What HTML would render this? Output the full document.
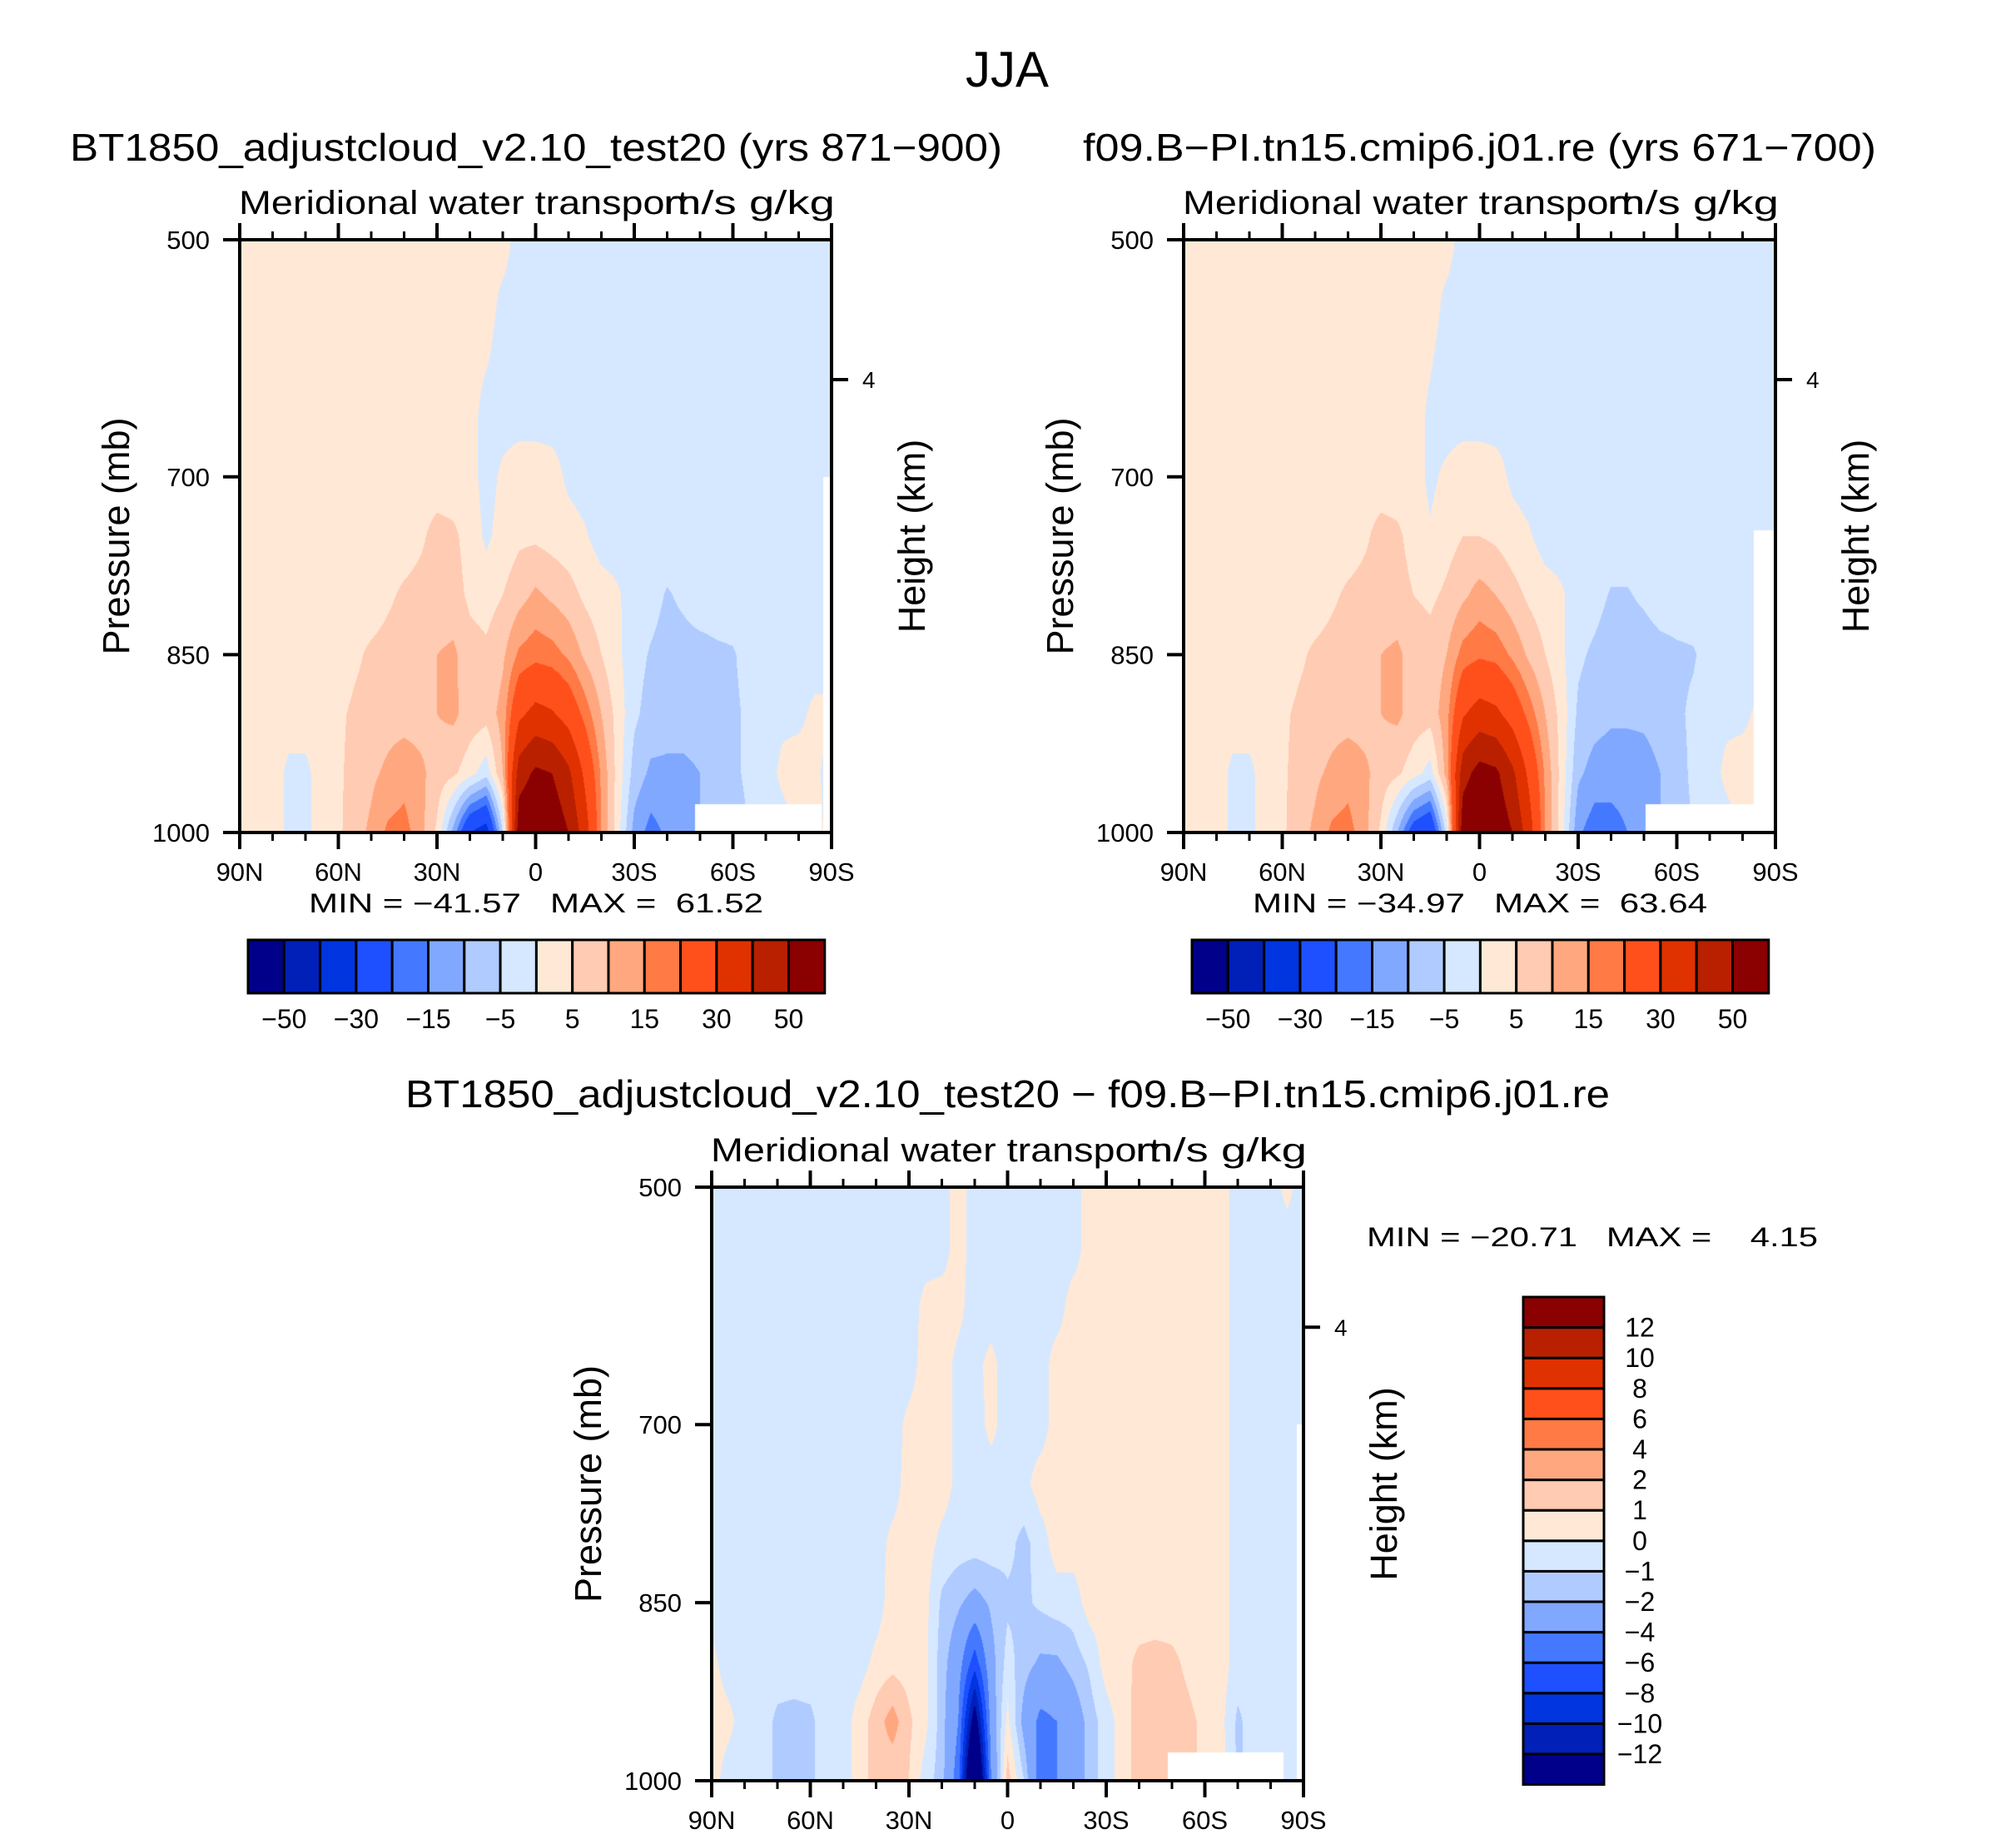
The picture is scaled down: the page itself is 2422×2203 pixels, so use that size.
<!DOCTYPE html>
<html>
<head>
<meta charset="utf-8">
<style>
html,body{margin:0;padding:0;background:#fff;}
#wrap{position:relative;width:2422px;height:2203px;overflow:hidden;background:#fff;}
canvas{position:absolute;}
svg{position:absolute;left:0;top:0;}
text{font-family:"Liberation Sans",Arial,sans-serif;fill:#000;white-space:pre;}
</style>
</head>
<body>
<div id="wrap">
<canvas id="c1" width="711" height="712" style="left:288px;top:288px"></canvas>
<canvas id="c2" width="711" height="712" style="left:1422px;top:288px"></canvas>
<canvas id="c3" width="711" height="713" style="left:855px;top:1426px"></canvas>
<svg id="svg" width="2422" height="2203" xmlns="http://www.w3.org/2000/svg">
<text x="1210" y="104" font-size="60" text-anchor="middle">JJA</text>
<text x="84" y="193" font-size="46" textLength="1120" lengthAdjust="spacingAndGlyphs">BT1850_adjustcloud_v2.10_test20 (yrs 871−900)</text>
<text x="1301" y="193" font-size="46" textLength="953" lengthAdjust="spacingAndGlyphs">f09.B−PI.tn15.cmip6.j01.re (yrs 671−700)</text>
<text x="487" y="1330" font-size="46" textLength="1447" lengthAdjust="spacingAndGlyphs">BT1850_adjustcloud_v2.10_test20 − f09.B−PI.tn15.cmip6.j01.re</text>
<text x="371" y="1096" font-size="32" textLength="546" lengthAdjust="spacingAndGlyphs">MIN = −41.57   MAX =  61.52</text>
<text x="1505" y="1096" font-size="32" textLength="546" lengthAdjust="spacingAndGlyphs">MIN = −34.97   MAX =  63.64</text>
<text x="1642" y="1497" font-size="32" textLength="542" lengthAdjust="spacingAndGlyphs">MIN = −20.71   MAX =    4.15</text>
<g id="axes"></g>
</svg>
</div>
<script>
const levels=[500,550,600,650,700,750,800,850,900,950,1000];
const latTicks=[90,60,30,0,-30,-60,-90];
const latTickLabels=["90N","60N","30N","0","30S","60S","90S"];
const pTicks=[500,700,850,1000];
const pTickLabels=["500","700","850","1000"];
const heightTickP=[618];
const heightTickLabels=["4"];
const colors=["#00008B","#0020B8","#0035E0","#1E50FF","#4479FF","#80A8FF","#B0CBFF","#D5E8FF","#FFE9D6","#FFCBB2","#FFA880","#FF7A45","#FF501C","#E03200","#B82000","#8B0000"];
const bounds12=[-50,-40,-30,-20,-15,-10,-5,0,5,10,15,20,30,40,50];
const boundLabels12=["−50","","−30","","−15","","−5","","5","","15","","30","","50"];
const bounds3=[-12,-10,-8,-6,-4,-2,-1,0,1,2,4,6,8,10,12];
const boundLabels3=["−12","−10","−8","−6","−4","−2","−1","0","1","2","4","6","8","10","12"];

const field1=[
[2,2,2,2,2,2,2,2,2,2,2,2,2,2,2,2,2,-2,-2,-2,-2,-2,-2,-2,-2,-2,-2,-2,-2,-2,-2,-2,-2,-2,-2,-2,-2],
[2,2,2,2,2,2,2,2,2,2,2,2,2,2,2,2,-1,-2,-2,-2,-2,-2,-2,-2,-2,-2,-2,-2,-2,-2,-2,-2,-2,-2,-2,-2,-2],
[2,2,2,2,2,2,2,2,2,2,2,2,2,2,2,0.5,-2,-2,-2,-2,-2,-2,-2,-2,-2,-2,-2,-2,-2,-2,-2,-2,-2,-2,-2,-2,-2],
[2,2,2,2,2,2,2,2,2,2,2,2,2,2,2,-2,-2,-2,-2,-2,-2,-2,-2,-2,-2,-2,-2,-2,-2,-2,-2,-2,-2,-2,-2,-2,-2],
[2,2,2,2,2,2,2,2,2,2,2,2,2,2,2,-2,1,3,3,2,-1,-2,-2,-2,-2,-2,-2,-2,-2,-2,-2,-2,-2,-2,-2,-2,-2],
[2,2,2,2,2,2,2,2,2,2,2,4,7,6,3,-1,2,4,4,3,2,0.5,-2,-2,-2,-2,-2,-2,-2,-2,-2,-2,-2,-2,-2,-2,-2],
[2,2,2,2,2,2,2,2,2,4,6,7,7,7,4,3,5,8,11,9,7,4,2,0.5,-2,-3,-5.5,-4,-2,-2,-2,-2,-2,-2,-2,-2,-2],
[2,2,2,2,2,2,2,4,6,7,8,8,10,11,7,6,9,16,18,17,14,9,5,1,-3,-5.5,-7,-7,-7,-6,-5.5,-3,-2,-2,-2,-2,-2],
[2,2,2,2,2,2,4,6,7,8,8,8,10,11,8,7,12,28,33,31,26,18,10,3,-4,-7,-8,-8,-8,-7,-6,-4,-2,-1,-1,1,1],
[2,2,2,-1,-1,2,4,7,9,11,13,11,8,6,2,-3,10,45,52,50,42,28,14,3,-7,-11,-11,-11,-10,-9,-6,-4,-2,1,2,1,-2],
[2,2,2,-1,-1,2,4,8,11,16,17,12,4,-12,-30,-35,-5,58,60,58,50,35,15,2,-12,-17,-14,-12,-10,-9,-7,-5,-3,-2,1,2,-2]
];
const field2=[
[2,2,2,2,2,2,2,2,2,2,2,2,2,2,2,2,2,-2,-2,-2,-2,-2,-2,-2,-2,-2,-2,-2,-2,-2,-2,-2,-2,-2,-2,-2,-2],
[2,2,2,2,2,2,2,2,2,2,2,2,2,2,2,2,-1,-2,-2,-2,-2,-2,-2,-2,-2,-2,-2,-2,-2,-2,-2,-2,-2,-2,-2,-2,-2],
[2,2,2,2,2,2,2,2,2,2,2,2,2,2,2,0.5,-2,-2,-2,-2,-2,-2,-2,-2,-2,-2,-2,-2,-2,-2,-2,-2,-2,-2,-2,-2,-2],
[2,2,2,2,2,2,2,2,2,2,2,2,2,2,2,-1,-2,-2,-2,-2,-2,-2,-2,-2,-2,-2,-2,-2,-2,-2,-2,-2,-2,-2,-2,-2,-2],
[2,2,2,2,2,2,2,2,2,2,2,2,2,2,2,-1,1,3,3,2,-1,-2,-2,-2,-2,-2,-2,-2,-2,-2,-2,-2,-2,-2,-2,-2,-2],
[2,2,2,2,2,2,2,2,2,2,2,4,7,6,3,0.5,3,5,5,4,2,0.5,-2,-2,-2,-2,-2,-2,-2,-2,-2,-2,-2,-2,-2,-2,-2],
[2,2,2,2,2,2,2,2,2,4,6,7,7,7,5,4,6,9,12,10,7,4,2,0.5,-2,-3,-5.5,-5.5,-4,-2,-2,-2,-2,-2,-2,-2,-2],
[2,2,2,2,2,2,2,4,6,7,8,8,10,11,8,7,10,17,19,18,14,9,5,1,-4,-6,-8,-8,-8,-7,-6,-5.5,-3,-2,-2,-2,-2],
[2,2,2,2,2,2,4,6,7,8,8,8,10,11,8,7,13,29,34,32,26,18,10,3,-6,-8,-9,-9,-9,-8,-6,-4,-2,-1,-1,1,1],
[2,2,2,-1,-1,2,4,7,9,11,13,11,8,6,2,-2,12,46,54,52,42,28,14,3,-9,-12,-13,-13,-12,-10,-7,-4,-2,1,2,1,-2],
[2,2,2,-1,-1,2,4,8,11,16,17,12,4,-10,-25,-30,-3,58,62,58,50,35,15,2,-14,-18,-17,-15,-12,-10,-7,-5,-3,-2,1,2,-2]
];
const field3=[
[-0.5,-0.5,-0.5,-0.5,-0.5,-0.5,-0.5,-0.5,-0.5,-0.5,-0.5,-0.5,-0.5,-0.5,-0.5,0.5,-0.5,-0.5,-0.5,-0.5,-0.5,-0.5,-0.5,0.5,0.5,0.5,0.5,0.5,0.5,0.5,0.5,0.5,-0.5,-0.5,-0.5,0.3,-0.5],
[-0.5,-0.5,-0.5,-0.5,-0.5,-0.5,-0.5,-0.5,-0.5,-0.5,-0.5,-0.5,-0.5,-0.5,-0.5,0.5,-0.5,-0.5,-0.5,-0.5,-0.5,-0.5,-0.5,0.5,0.5,0.5,0.5,0.5,0.5,0.5,0.5,0.5,-0.5,-0.5,-0.5,-0.5,-0.5],
[-0.5,-0.5,-0.5,-0.5,-0.5,-0.5,-0.5,-0.5,-0.5,-0.5,-0.5,-0.5,-0.5,0.3,0.5,0.3,-0.5,-0.5,-0.5,-0.5,-0.5,-0.5,0.5,0.5,0.5,0.5,0.5,0.5,0.5,0.5,0.5,0.5,-0.5,-0.5,-0.5,-0.5,-0.5],
[-0.5,-0.5,-0.5,-0.5,-0.5,-0.5,-0.5,-0.5,-0.5,-0.5,-0.5,-0.5,-0.5,0.5,0.5,-0.3,-0.3,0.3,-0.5,-0.5,-0.5,0.5,0.5,0.5,0.5,0.5,0.5,0.5,0.5,0.5,0.5,0.5,-0.5,-0.5,-0.5,-0.5,-0.5],
[-0.5,-0.5,-0.5,-0.5,-0.5,-0.5,-0.5,-0.5,-0.5,-0.5,-0.5,-0.5,0.3,0.5,0.5,-0.3,-0.5,0.3,-0.5,-0.5,-0.5,0.5,0.5,0.5,0.5,0.5,0.5,0.5,0.5,0.5,0.5,0.5,-0.5,-0.5,-0.5,-0.5,-0.5],
[-0.5,-0.5,-0.5,-0.5,-0.5,-0.5,-0.5,-0.5,-0.5,-0.5,-0.5,-0.5,0.5,0.5,0.5,-0.3,-0.5,-0.5,-0.5,-0.3,0.5,0.5,0.5,0.5,0.5,0.5,0.5,0.5,0.5,0.5,0.5,0.5,-0.5,-0.5,-0.5,-0.5,-0.5],
[-0.5,-0.5,-0.5,-0.5,-0.5,-0.5,-0.5,-0.5,-0.5,-0.5,-0.5,0.3,0.5,0.5,-0.3,-0.5,-0.5,-0.5,-0.7,-1.3,-0.5,0.5,0.5,0.5,0.5,0.5,0.5,0.5,0.5,0.5,0.5,0.5,-0.5,-0.5,-0.5,-0.5,-0.5],
[-0.5,-0.5,-0.5,-0.5,-0.5,-0.5,-0.5,-0.5,-0.5,-0.5,-0.5,0.5,0.5,0.3,-1.2,-1.8,-2.5,-1.8,-1.2,-1.2,-0.8,-0.5,-0.5,0.5,0.5,0.5,0.5,0.5,0.5,0.5,0.5,0.5,-0.5,-0.5,-0.5,-0.5,-0.5],
[0.3,-0.5,-0.5,-0.5,-0.5,-0.5,-0.5,-0.5,-0.5,-0.5,0.3,0.6,0.5,0.3,-1.5,-3,-7,-2.5,-0.6,-1.5,-2.2,-2.2,-1.5,-0.8,0.5,0.7,1.2,1.3,1.2,0.8,0.5,0.5,-0.5,-0.5,-0.5,-0.5,-0.5],
[0.5,0.3,-0.5,-0.5,-1.2,-1.3,-1.2,-0.5,-0.5,0.5,1.5,2.5,1.2,0.3,-1.5,-4,-14,-3,0.3,-2.5,-4.5,-4,-3,-1.5,-0.5,0.5,1.5,1.8,1.5,1.2,0.8,0.3,-1.2,-0.5,-0.5,-0.5,-0.5],
[0.5,-0.5,-0.5,-0.5,-1.2,-1.5,-1.2,-0.5,-0.5,0.5,1.5,1.2,1.0,-0.5,-1.5,-5,-20,-4,1.5,-1,-5,-4,-3,-1.5,-0.5,0.5,1.5,1.5,1.5,1.2,0.8,0.5,-1.2,-0.5,-0.5,-0.5,-0.5]
];
// missing-data regions: [northLat, southLat, topP, bottomP]
const missing1=[[-48.5,-87,976,1000],[-87.5,-90,700,1000]];
const missing2=[[-50.6,-83.4,976,1000],[-83.4,-90,745,1000]];
const missing3=[[-48.7,-84,976,1000],[-88,-90,700,1000]];

function hexRgb(h){return [parseInt(h.substr(1,2),16),parseInt(h.substr(3,2),16),parseInt(h.substr(5,2),16)];}
const rgbs=colors.map(hexRgb);
function colorIndex(v,b){let k=0;while(k<b.length&&v>=b[k])k++;return k;}
function sample(field,lat,p){
  const g=(90-lat)/5;let i=Math.floor(g);if(i>=36)i=35;if(i<0)i=0;const t=g-i;
  let k=0;while(k<levels.length-2&&p>levels[k+1])k++;
  const u=(p-levels[k])/(levels[k+1]-levels[k]);
  const a=field[k][i]*(1-t)+field[k][i+1]*t;
  const b=field[k+1][i]*(1-t)+field[k+1][i+1]*t;
  return a*(1-u)+b*u;
}
function drawField(id,field,b,miss){
  const cv=document.getElementById(id);const ctx=cv.getContext('2d');
  const W=cv.width,H=cv.height;const img=ctx.createImageData(W,H);
  for(let y=0;y<H;y++){const p=500+(y+0.5)/H*500;
    for(let x=0;x<W;x++){const lat=90-(x+0.5)/W*180;
      let c=[255,255,255];let isMiss=false;
      for(const m of miss){if(lat<=m[0]&&lat>=m[1]&&p>=m[2]&&p<=m[3]){isMiss=true;break;}}
      if(!isMiss){c=rgbs[colorIndex(sample(field,lat,p),b)];}
      const o=(y*W+x)*4;img.data[o]=c[0];img.data[o+1]=c[1];img.data[o+2]=c[2];img.data[o+3]=255;}}
  ctx.putImageData(img,0,0);
}
drawField('c1',field1,bounds12,missing1);
drawField('c2',field2,bounds12,missing2);
drawField('c3',field3,bounds3,missing3);

const NS="http://www.w3.org/2000/svg";
const axes=document.getElementById('axes');
function mk(tag,attrs,parent){const e=document.createElementNS(NS,tag);for(const k in attrs)e.setAttribute(k,attrs[k]);(parent||axes).appendChild(e);return e;}
function drawAxes(pfx,x0,y0,W,H){
  const g=mk('g',{});
  
  
  const xs=lat=>x0+(90-lat)/180*W;
  const ys=p=>y0+(p-500)/500*H;
  const frame=mk('rect',{x:x0,y:y0,width:W,height:H,fill:'none',stroke:'#000','stroke-width':4},g);
  
  
  for(let lat=90;lat>=-90;lat-=10){
    const major=(lat%30===0);const L=major?20:10;const w=major?4:3;
    const tb=mk('line',{x1:xs(lat),x2:xs(lat),y1:y0+H,y2:y0+H+L,stroke:'#000','stroke-width':w},g);
    
    
    const tt=mk('line',{x1:xs(lat),x2:xs(lat),y1:y0,y2:y0-L,stroke:'#000','stroke-width':w},g);
    
    
  }
  latTicks.forEach((lat,j)=>{
    const t=mk('text',{x:xs(lat),y:y0+H+58,'font-size':31,'text-anchor':'middle'},g);t.textContent=latTickLabels[j];
    
    
  });
  pTicks.forEach((p,j)=>{
    const l=mk('line',{x1:x0-20,x2:x0,y1:ys(p),y2:ys(p),stroke:'#000','stroke-width':4},g);
    
    
    const t=mk('text',{x:x0-36,y:ys(p)+11,'font-size':31,'text-anchor':'end'},g);t.textContent=pTickLabels[j];
    
    
  });
  heightTickP.forEach((p,j)=>{
    const l=mk('line',{x1:x0+W,x2:x0+W+20,y1:ys(p),y2:ys(p),stroke:'#000','stroke-width':4},g);
    
    
    const t=mk('text',{x:x0+W+37,y:ys(p)+10,'font-size':28},g);t.textContent=heightTickLabels[j];
    
    
  });
  const st=mk('text',{x:x0-1,y:y0-31,'font-size':40,textLength:540,lengthAdjust:'spacingAndGlyphs'},g);st.textContent='Meridional water transport';
  
  
  const un=mk('text',{x:x0+W+4,y:y0-31,'font-size':40,'text-anchor':'end',textLength:206,lengthAdjust:'spacingAndGlyphs'},g);un.textContent='m/s g/kg';
  
  
  const yl=mk('text',{x:0,y:0,'font-size':45,'text-anchor':'middle',transform:`translate(${x0-133},${y0+H/2}) rotate(-90)`},g);yl.textContent='Pressure (mb)';
  
  
  const hl=mk('text',{x:0,y:0,'font-size':45,'text-anchor':'middle',transform:`translate(${x0+W+112},${y0+H/2}) rotate(-90)`},g);hl.textContent='Height (km)';
  
  
}
drawAxes('panel1',288,288,711,712);
drawAxes('panel2',1422,288,711,712);
drawAxes('diff',855,1426,711,713);

function hColorbar(pfx,x0,y0,bw,bh,b,labels){
  colors.forEach((c,j)=>{
    const r=mk('rect',{x:x0+j*bw,y:y0,width:bw,height:bh,fill:c,stroke:'#000','stroke-width':3});
    
    
  });
  b.forEach((v,j)=>{
    if(!labels[j])return;
    const t=mk('text',{x:x0+(j+1)*bw,y:y0+bh+42,'font-size':32,'text-anchor':'middle'});t.textContent=labels[j];
    
    
  });
}
hColorbar('panel1',298,1129,43.3,64,bounds12,boundLabels12);
hColorbar('panel2',1432,1129,43.3,64,bounds12,boundLabels12);
function vColorbar(pfx,x0,y0,bw,bh,b,labels){
  const n=colors.length;
  colors.forEach((c,j)=>{
    const r=mk('rect',{x:x0,y:y0+(n-1-j)*bh,width:bw,height:bh,fill:c,stroke:'#000','stroke-width':3});
    
    
  });
  b.forEach((v,j)=>{
    const t=mk('text',{x:x0+bw+43,y:y0+(n-1-j)*bh+11,'font-size':32,'text-anchor':'middle'});t.textContent=labels[j];
    
    
  });
}
vColorbar('diff',1830,1558,97,36.6,bounds3,boundLabels3);
</script>
</body>
</html>
